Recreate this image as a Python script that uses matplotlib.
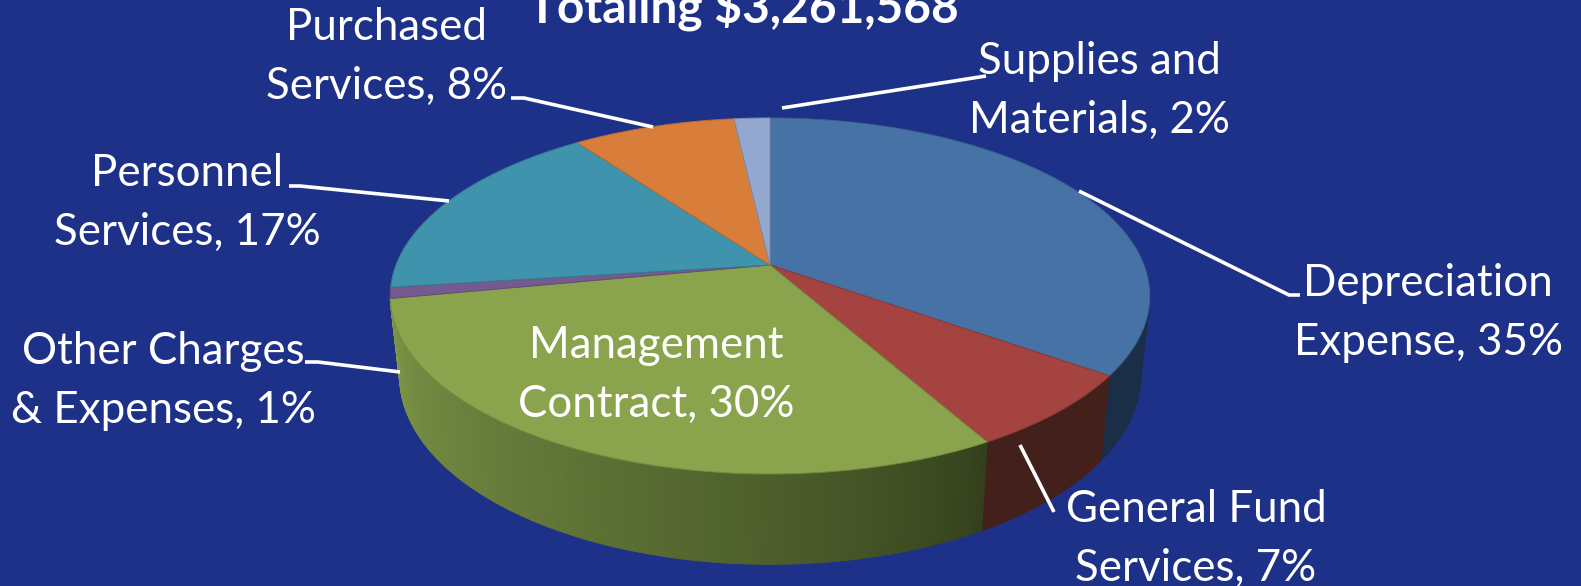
import numpy as np
import matplotlib
matplotlib.use('Agg')
import matplotlib.pyplot as plt
from matplotlib.colors import to_rgb

plt.rcParams['font.family'] = ['Lato', 'DejaVu Sans']

title = "Totaling $3,261,568"
names = ["Depreciation\nExpense, 35%", "General Fund\nServices, 7%", "Management\nContract, 30%",
         "Other Charges\n& Expenses, 1%", "Personnel\nServices, 17%", "Purchased\nServices, 8%",
         "Supplies and\nMaterials, 2%"]
values = [34.8, 7.0, 30.2, 1.0, 17.0, 8.2, 1.8]
top_colors = ['#4672a6', '#a54340', '#89a44c', '#745a8f', '#3f93ac', '#d87e3a', '#92a8cf']
side_start = ['#1b2e47', '#44201b', '#7e9748', '#46365a', '#265a6a', '#844c22', '#59667f']
side_end = ['#1b2e47', '#44201b', '#33401b', '#46365a', '#265a6a', '#844c22', '#59667f']
label_pos = [(1428, 313), (1196, 539), (656, 375), (163, 381), (187, 203), (387, 57), (1099, 91)]
leaders = [[(1079, 191), (1289, 295), (1300, 295)],
           [(1020, 445), (1054, 512)],
           [(782, 108), (986, 76)],
           [(653, 127), (524, 98), (511, 98)],
           [(449, 201), (300, 186), (289, 186)],
           [(400, 372), (318, 362), (305, 362)]]

# perspective of the disc
cx, cy = 770, 265
A, B, k = 374, 172.6, 0.174
shrink, depth = 0.975, 79


def top_pt(theta):
    x, y = np.sin(theta), np.cos(theta)
    w = 1 + k * y
    return cx + A * x / w, cy - B * y / w


def bottom_pt(theta):
    x, y = top_pt(theta)
    w = 1 + k * np.cos(theta)
    return cx + (x - cx) * shrink, cy + (y - cy) * shrink + depth / w


fig = plt.figure(figsize=(15.81, 5.86), dpi=100, facecolor='#1e3189')
ax = fig.add_axes([0, 0, 1, 1])
ax.set_xlim(0, 1581)
ax.set_ylim(586, 0)
ax.axis('off')

edges = np.cumsum([0] + values) / sum(values) * 2 * np.pi

# side wall, only the part that faces the viewer
limit = -1.1 * k
for i in range(len(values)):
    t = np.linspace(edges[i], edges[i + 1], max(int(values[i] * 6), 2) + 1)
    c0, c1 = np.array(to_rgb(side_start[i])), np.array(to_rgb(side_end[i]))
    for j in range(len(t) - 1):
        if np.cos(t[j]) > limit and np.cos(t[j + 1]) > limit:
            continue
        f = (j / (len(t) - 2)) ** 0.8
        # green wall goes lighter to the left, it runs clockwise so flip
        col = c1 + (c0 - c1) * f
        xa, ya = top_pt(t[j:j + 2])
        xb, yb = bottom_pt(t[j:j + 2])
        ax.fill(np.r_[xa, xb[::-1]], np.r_[ya, yb[::-1]], color=col, lw=0.6)

# top face
for i in range(len(values)):
    t = np.linspace(edges[i], edges[i + 1], 120)
    x, y = top_pt(t)
    ax.fill(np.r_[cx, x], np.r_[cy, y], facecolor=top_colors[i],
            edgecolor=np.array(to_rgb(top_colors[i])) * 0.85, lw=0.7)

for pts in leaders:
    ax.plot([p[0] for p in pts], [p[1] for p in pts], color='white', lw=2.6, solid_capstyle='butt')

for name, pos in zip(names, label_pos):
    ax.text(pos[0], pos[1], name, color='white', fontsize=31.6, ha='center', va='center', linespacing=1.55)

ax.text(743, 7, title, color='white', fontsize=34.5, fontweight='bold', ha='center', va='center')

fig.savefig('out.png', dpi=100, facecolor=fig.get_facecolor())
